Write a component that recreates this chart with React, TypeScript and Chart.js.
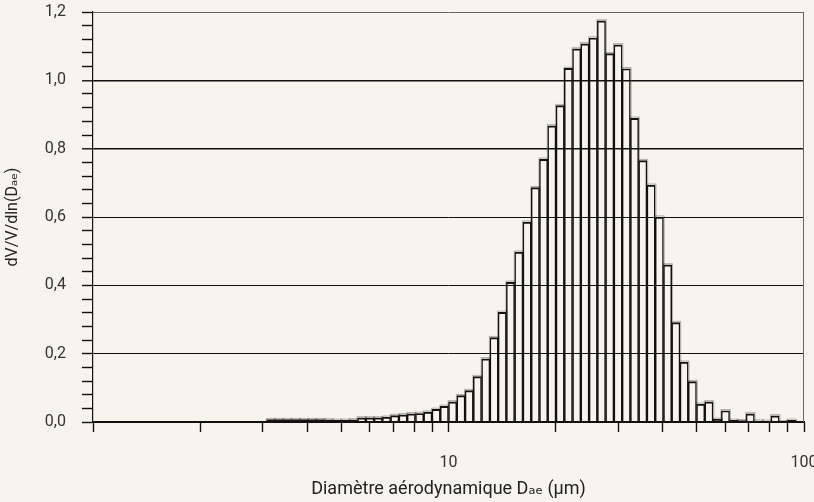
import React, { useEffect, useRef } from 'react';
import { Chart, registerables } from 'chart.js';

Chart.register(...registerables);

const BG = '#f9f3ed';

// Bin centres, aerodynamic diameter (µm), log-spaced
const diameters = [
  3.162, 3.336, 3.520, 3.713, 3.918, 4.133, 4.360, 4.600, 4.853, 5.120,
  5.402, 5.699, 6.013, 6.343, 6.692, 7.060, 7.449, 7.858, 8.291, 8.747,
  9.228, 9.736, 10.27, 10.84, 11.43, 12.06, 12.73, 13.43, 14.16, 14.94,
  15.77, 16.63, 17.55, 18.51, 19.53, 20.61, 21.74, 22.94, 24.20, 25.53,
  26.93, 28.42, 29.98, 31.62, 33.36, 35.20, 37.13, 39.18, 41.33, 43.60,
  46.00, 48.53, 51.20, 54.02, 56.99, 60.13, 63.43, 66.92, 70.60, 74.49,
  78.58, 82.91, 87.47, 92.28,
];

// dV/V/dln(Dae)
const volumeDensity = [
  0.007, 0.007, 0.007, 0.007, 0.007, 0.007, 0.007, 0.006, 0.005, 0.005,
  0.006, 0.012, 0.012, 0.012, 0.014, 0.019, 0.021, 0.024, 0.025, 0.029,
  0.037, 0.046, 0.059, 0.077, 0.092, 0.133, 0.185, 0.247, 0.321, 0.409,
  0.497, 0.585, 0.686, 0.769, 0.867, 0.926, 1.035, 1.092, 1.107, 1.124,
  1.174, 1.078, 1.104, 1.034, 0.889, 0.765, 0.693, 0.600, 0.460, 0.291,
  0.175, 0.118, 0.052, 0.059, 0.008, 0.033, 0.005, 0.004, 0.024, 0.003,
  0.002, 0.018, 0.001, 0.005,
];

const xTickValues = [1, 2, 3, 4, 5, 6, 7, 8, 9, 10, 20, 30, 40, 50, 60, 70, 80, 90, 100];
const xTickLabels = [10, 100];
const yMin = 0;
const yMax = 1.2;
const yMinorStep = 0.04;
const yMajorStep = 0.2;

const xTitle = 'Diamètre aérodynamique Dₐₑ (µm)';
const yTitle = 'dV/V/dln(Dₐₑ)';

const isMajor = (v: number) => Math.abs(v / yMajorStep - Math.round(v / yMajorStep)) < 1e-6;

const haloPlugin = {
  id: 'halo',
  beforeDatasetsDraw(chart: any) {
    const ctx = chart.ctx;
    const meta = chart.getDatasetMeta(0);
    ctx.save();
    ctx.strokeStyle = 'rgba(70,70,70,0.4)';
    ctx.lineWidth = 1;
    meta.data.forEach((el: any) => {
      const { x, y, base, width } = el.getProps(['x', 'y', 'base', 'width'], true);
      const l = x - width / 2;
      const r = x + width / 2;
      ctx.beginPath();
      ctx.moveTo(l - 0.5, base);
      ctx.lineTo(l - 0.5, y - 1.2);
      ctx.lineTo(r + 0.8, y - 1.2);
      ctx.lineTo(r + 0.8, base);
      ctx.stroke();
    });
    ctx.restore();
  },
};

const framePlugin = {
  id: 'frame',
  afterDraw(chart: any) {
    const { ctx, chartArea } = chart;
    ctx.save();
    ctx.strokeStyle = '#666';
    ctx.lineWidth = 1;
    ctx.beginPath();
    ctx.moveTo(Math.round(chartArea.right) - 0.5, chartArea.top);
    ctx.lineTo(Math.round(chartArea.right) - 0.5, chartArea.bottom);
    ctx.stroke();
    ctx.restore();
  },
};

export default function App() {
  const canvasRef = useRef<HTMLCanvasElement>(null);

  useEffect(() => {
    document.body.style.margin = '0';
    document.body.style.background = BG;
    const canvas = canvasRef.current;
    if (!canvas) return;
    Chart.defaults.font.family = 'Roboto, "DejaVu Sans", sans-serif';

    const chart = new Chart(canvas, {
      type: 'bar',
      data: {
        datasets: [
          {
            data: diameters.map((d, i) => ({ x: d, y: volumeDensity[i] })),
            backgroundColor: 'rgba(0,0,0,0)',
            borderColor: '#111',
            borderWidth: { top: 1.3, left: 0.8, right: 0.8, bottom: 0 },
            barPercentage: 1,
            categoryPercentage: 1,
          },
        ],
      },
      options: {
        animation: false,
        responsive: false,
        events: [],
        layout: { padding: { left: 0, right: 10, top: 12, bottom: 0 } },
        plugins: { legend: { display: false }, tooltip: { enabled: false } },
        scales: {
          x: {
            type: 'logarithmic',
            min: 1,
            max: 100,
            offset: false,
            afterBuildTicks: (s: any) => {
              s.ticks = xTickValues.map((v) => ({ value: v, major: xTickLabels.includes(v) }));
            },
            afterFit: (s: any) => {
              s.height = 80;
              s.paddingLeft = 0;
              s.paddingRight = 0;
            },
            ticks: {
              autoSkip: false,
              maxRotation: 0,
              padding: 21,
              color: '#333',
              font: { size: 16 },
              callback: (v: any) => (xTickLabels.includes(Number(v)) ? String(v) : ''),
            },
            grid: {
              offset: false,
              drawOnChartArea: false,
              drawTicks: true,
              tickLength: 10,
              tickColor: '#111',
              tickWidth: 1.4,
            },
            border: { color: '#111', width: 1.2 },
            title: {
              display: true,
              text: xTitle,
              color: '#222',
              font: { size: 18 },
              padding: { top: 0, bottom: 2 },
            },
          },
          y: {
            type: 'linear',
            min: yMin,
            max: yMax,
            afterFit: (s: any) => {
              s.width = 93;
              s.paddingTop = 0;
              s.paddingBottom = 0;
            },
            ticks: {
              stepSize: yMinorStep,
              autoSkip: false,
              padding: 16,
              color: '#333',
              font: { size: 16 },
              callback: (v: any) => (isMajor(Number(v)) ? Number(v).toFixed(1).replace('.', ',') : ''),
            },
            grid: {
              drawOnChartArea: true,
              drawTicks: true,
              tickLength: 11,
              tickColor: '#111',
              tickWidth: 1.4,
              color: (c: any) => {
                const v = c.tick ? c.tick.value : 0;
                if (!isMajor(v)) return 'rgba(0,0,0,0)';
                if (Math.abs(v - yMax) < 1e-6) return '#666';
                return '#111';
              },
              lineWidth: (c: any) => {
                const v = c.tick ? c.tick.value : 0;
                if (Math.abs(v - 1.0) < 1e-6 || Math.abs(v - 0.8) < 1e-6) return 1.6;
                return 1;
              },
            },
            border: { color: '#111', width: 1.2 },
            title: {
              display: true,
              text: yTitle,
              color: '#222',
              font: { size: 16 },
              padding: { top: 3, bottom: 0 },
            },
          },
        },
      },
      plugins: [haloPlugin, framePlugin],
    } as any);

    return () => chart.destroy();
  }, []);

  return (
    <div style={{ width: 814, height: 502, background: BG }}>
      <canvas ref={canvasRef} width={814} height={502} style={{ display: 'block' }} />
    </div>
  );
}
